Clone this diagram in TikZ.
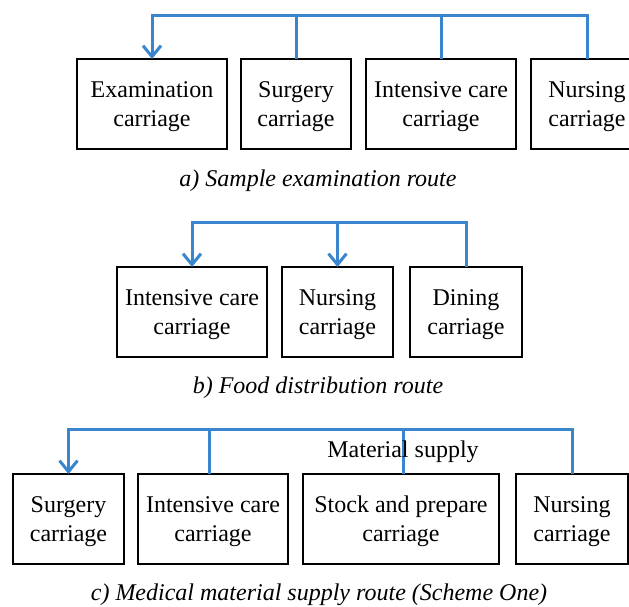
\documentclass[tikz,border=0pt]{standalone}
\usepackage{fontspec}
\setmainfont{Liberation Serif}
\usetikzlibrary{arrows.meta,positioning}
\definecolor{routeblue}{RGB}{57,133,206}

\begin{document}
\begin{tikzpicture}[x=1pt, y=-1pt, node distance=15pt,
    every node/.style={font=\fontsize{24}{29}\selectfont},
    car/.style={draw, line width=1.3pt, minimum height=90pt, align=center, inner sep=0pt,
      outer sep=0pt, text depth=-2.5pt},
    route/.style={draw=routeblue, line width=3pt},
    into/.style={route, -{Straight Barb[length=11pt,width=18pt]}},
    caption/.style={font=\fontsize{24}{29}\selectfont\itshape}]
  \clip (0,0) rectangle (629,606);

  % a) sample examination route
  \node[car, minimum width=150pt] (exa) at (152,104) {Examination\\carriage};
  \node[car, minimum width=110pt, right=14pt of exa] (sura) {Surgery\\carriage};
  \node[car, minimum width=150pt, right=of sura] (inta) {Intensive care\\carriage};
  \node[car, minimum width=112pt, right=of inta] (nura) {Nursing\\carriage};
  \node[caption] (capa) at (318,181) {a) Sample examination route};
  \coordinate (abus) at (0,15);
  \draw[into] (nura.north) -- (nura.north |- abus) -- (exa.north |- abus) -- (exa.north);
  \draw[route] (sura.north) -- (sura.north |- abus);
  \draw[route] (inta.north) -- (inta.north |- abus);

  % b) food distribution route
  \node[car, minimum width=150pt] (intb) at (192,312) {Intensive care\\carriage};
  \node[car, minimum width=111pt, right=of intb] (nurb) {Nursing\\carriage};
  \node[car, minimum width=112pt, right=17pt of nurb] (dinb) {Dining\\carriage};
  \node[caption] (capb) at (318,388) {b) Food distribution route};
  \coordinate (bbus) at (0,222);
  \draw[into] (dinb.north) -- (dinb.north |- bbus) -- (intb.north |- bbus) -- (intb.north);
  \draw[into] (nurb.north |- bbus) -- (nurb.north);

  % c) medical material supply route
  \node[car, minimum width=111pt] (surc) at (68.5,519) {Surgery\\carriage};
  \node[car, minimum width=150pt, right=14pt of surc] (intc) {Intensive care\\carriage};
  \node[car, minimum width=196pt, right=of intc] (stoc) {Stock and prepare\\carriage};
  \node[car, minimum width=112pt, right=17pt of stoc] (nurc) {Nursing\\carriage};
  \node[caption] (capc) at (319,595) {c) Medical material supply route (Scheme One)};
  \coordinate (cbus) at (0,429);
  \draw[into] (nurc.north) -- (nurc.north |- cbus) -- (surc.north |- cbus) -- (surc.north);
  \draw[route] ([xshift=-4pt]intc.north) -- ([xshift=-4pt]intc.north |- cbus);
  \draw[route] ([xshift=2pt]stoc.north) -- ([xshift=2pt]stoc.north |- cbus);
  \node (mat) at (403,452) {Material supply};
\end{tikzpicture}
\end{document}
